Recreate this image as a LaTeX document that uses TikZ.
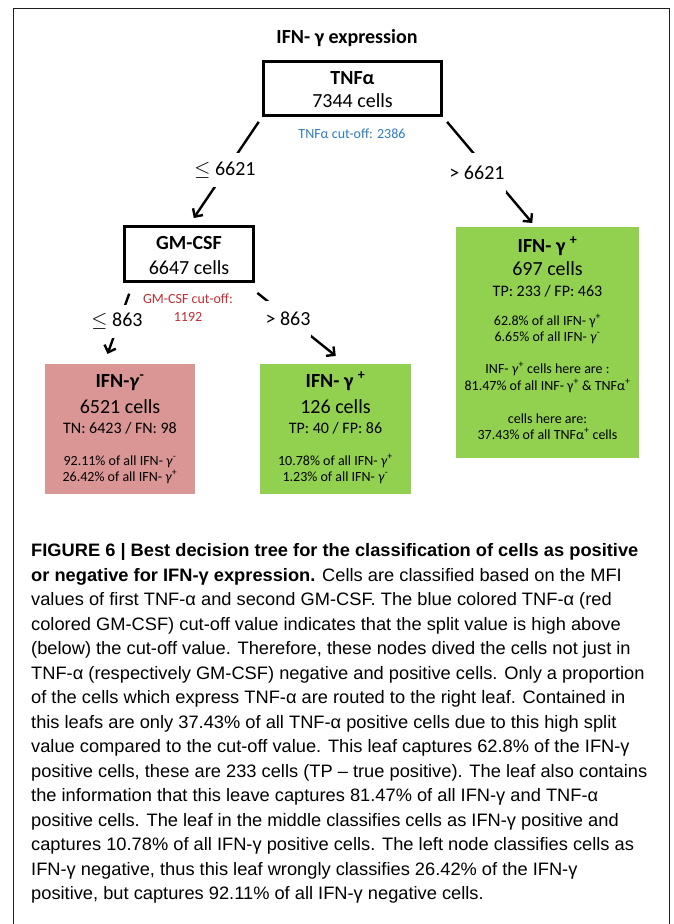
\documentclass[tikz,border=0pt]{standalone}
\usepackage{fontspec}
\setmainfont{Carlito}
\newfontfamily\capfont[FakeStretch=1.015]{Liberation Sans}
\usetikzlibrary{arrows.meta}
\definecolor{pinkleaf}{RGB}{217,150,148}
\definecolor{greenleaf}{RGB}{146,208,80}
\definecolor{cutblue}{RGB}{46,125,195}
\definecolor{cutred}{RGB}{196,45,50}
\definecolor{framegray}{RGB}{30,30,30}
\begin{document}
\begin{tikzpicture}[x=1pt,y=-1pt,
  framestyle/.style={draw=framegray,line width=1.6pt},
  treebox/.style={draw=black,line width=2.8pt,inner sep=0pt},
  leafbox/.style={inner sep=0pt,draw=none},
  ttl/.style={anchor=base,inner sep=0pt,font=\bfseries\fontsize{20}{24}\selectfont},
  tb/.style={anchor=base,inner sep=0pt,font=\bfseries\fontsize{20}{24}\selectfont},
  tt/.style={anchor=base,inner sep=0pt,font=\fontsize{20}{24}\selectfont},
  tm/.style={anchor=base,inner sep=0pt,font=\fontsize{16}{19}\selectfont},
  ts/.style={anchor=base,inner sep=0pt,font=\fontsize{14}{16}\selectfont},
  splitlbl/.style={fill=white,inner xsep=1pt,inner ysep=0pt,font=\fontsize{20}{24}\selectfont},
  edge/.style={line width=2.4pt,-{Straight Barb[length=6pt,width=12pt]}},
  captionline/.style={anchor=base west,inner sep=0pt,font=\capfont\fontsize{18}{24}\selectfont}
]
\useasboundingbox (0,0) rectangle (673,924);
\fill[white] (0,0) rectangle (673,924);
\draw[framestyle] (13.5,924) -- (13.5,8.5) -- (669.5,8.5) -- (669.5,924);

% title
\node[ttl] (title) at (347,43) {IFN- γ expression};

% root
\node[treebox,minimum width=178pt,minimum height=54pt] (tnf) at (352.5,88.5) {};
\node[tb] (tnfname) at (352.5,84) {TNFα};
\node[tt] (tnfcells) at (352.5,107) {7344 cells};

% GM-CSF
\node[treebox,minimum width=129pt,minimum height=55pt] (gm) at (189,254) {};
\node[tb] (gmname) at (189,249) {GM-CSF};
\node[tt] (gmcells) at (189,274) {6647 cells};

% leaves
\node[leafbox,fill=pinkleaf,minimum width=150pt,minimum height=130pt] (pl) at (120,429) {};
\node[leafbox,fill=greenleaf,minimum width=151pt,minimum height=130pt] (ml) at (335.5,429) {};
\node[leafbox,fill=greenleaf,minimum width=183pt,minimum height=231pt] (rl) at (547.5,342.5) {};

% edges
\draw[edge,shorten <=6pt,shorten >=8.5pt] (tnf.south west) -- (gm.north);
\draw[edge,shorten <=6.5pt,shorten >=5pt] (tnf.south east) -- ([xshift=-12pt]rl.north);
\draw[edge,shorten <=11.5pt,shorten >=10.5pt] ([xshift=10pt]gm.south west) -- ([xshift=-16pt]pl.north);
\draw[edge,shorten <=16pt,shorten >=12.5pt] ([xshift=-10pt]gm.south east) -- ([xshift=10pt]ml.north);

% split labels
\node[splitlbl,minimum height=34pt] (l1) at (225,170) {$\leq$ 6621};
\node[splitlbl,minimum height=40pt] (l2) at (477,173) {> 6621};
\node[splitlbl,minimum height=33pt] (l3) at (117,321.5) {$\leq$ 863};
\node[splitlbl,minimum height=36pt] (l4) at (288,319) {> 863};

% cut-offs
\node[ts,text=cutblue] (tnfcut) at (352,138) {TNFα cut-off: 2386};
\node[ts,text=cutred] (gmcut1) at (188,303) {GM-CSF cut-off:};
\node[ts,text=cutred] (gmcut2) at (188,321) {1192};

% left leaf text
\node[tb] (p1) at (120,387) {IFN-\textit{γ}\textsuperscript{-}};
\node[tt] (p2) at (120,413) {6521 cells};
\node[tm] (p3) at (120,433) {TN: 6423 / FN: 98};
\node[ts] (p4) at (120,465) {92.11\% of all IFN- \textit{γ}\textsuperscript{-}};
\node[ts] (p5) at (120,481) {26.42\% of all IFN- \textit{γ}\textsuperscript{+}};

% middle leaf text
\node[tb] (m1) at (335.5,387) {IFN- γ \textsuperscript{+}};
\node[tt] (m2) at (335.5,413) {126 cells};
\node[tm] (m3) at (335.5,433) {TP: 40 / FP: 86};
\node[ts] (m4) at (335.5,465) {10.78\% of all IFN- \textit{γ}\textsuperscript{+}};
\node[ts] (m5) at (335.5,481) {1.23\% of all IFN- \textit{γ}\textsuperscript{-}};

% right leaf text
\node[tb] (r1) at (547.5,252) {IFN- γ \textsuperscript{+}};
\node[tt] (r2) at (547.5,275) {697 cells};
\node[tm] (r3) at (547.5,296) {TP: 233 / FP: 463};
\node[ts] (r4) at (547.5,325) {62.8\% of all IFN- γ\textsuperscript{+}};
\node[ts] (r5) at (547.5,341) {6.65\% of all IFN- \textit{γ}\textsuperscript{-}};
\node[ts] (r6) at (547.5,373) {INF- \textit{γ}\textsuperscript{+} cells here are :};
\node[ts] (r7) at (547.5,390) {81.47\% of all INF- γ\textsuperscript{+} \& TNFα\textsuperscript{+}};
\node[ts] (r8) at (547.5,423) {cells here are:};
\node[ts] (r9) at (547.5,439) {37.43\% of all TNFα\textsuperscript{+} cells};

% caption
\foreach \captxt [count=\i] in {
  {{\bfseries FIGURE 6 | Best decision tree for the classification of cells as positive}},
  {{\bfseries or negative for IFN-γ expression.} Cells are classified based on the MFI},
  {values of first TNF-α and second GM-CSF. The blue colored TNF-α (red},
  {colored GM-CSF) cut-off value indicates that the split value is high above},
  {(below) the cut-off value. Therefore, these nodes dived the cells not just in},
  {TNF-α (respectively GM-CSF) negative and positive cells. Only a proportion},
  {of the cells which express TNF-α are routed to the right leaf. Contained in},
  {this leafs are only 37.43\% of all TNF-α positive cells due to this high split},
  {value compared to the cut-off value. This leaf captures 62.8\% of the IFN-γ},
  {positive cells, these are 233 cells (TP – true positive). The leaf also contains},
  {the information that this leave captures 81.47\% of all IFN-γ and TNF-α},
  {positive cells. The leaf in the middle classifies cells as IFN-γ positive and},
  {captures 10.78\% of all IFN-γ positive cells. The left node classifies cells as},
  {IFN-γ negative, thus this leaf wrongly classifies 26.42\% of the IFN-γ},
  {positive, but captures 92.11\% of all IFN-γ negative cells.}
}{
  \node[captionline] (caption\i) at (31,{556.5+24.5*(\i-1)}) {\captxt};
}
\end{tikzpicture}
\end{document}
